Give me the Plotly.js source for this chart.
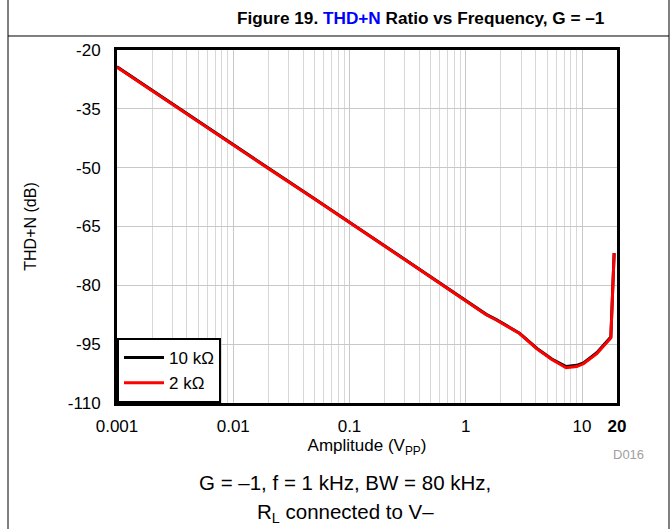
<!DOCTYPE html>
<html>
<head>
<meta charset="utf-8">
<script src="https://cdn.plot.ly/plotly-3.0.1.min.js"></script>
<style>html,body{margin:0;padding:0;background:#fff;}#chart{width:671px;height:529px;}</style>
</head>
<body>
<div id="chart"></div>
<script>
// Amplitude (Vpp) and THD+N (dB)
const amp10k = [0.001, 0.002, 0.005, 0.01, 0.02, 0.05, 0.1, 0.15, 0.2, 0.3, 0.5, 0.6, 0.9, 1.0, 1.5, 1.85, 2.1, 2.9, 4.1, 5.5, 7.3, 9.0, 10.3, 13.4, 17.7, 18.9];
const thd10k = [-24.3, -30.3, -38.2, -44.2, -50.1, -57.9, -64.0, -67.4, -69.9, -73.4, -77.9, -79.5, -82.9, -83.8, -87.4, -88.8, -89.7, -92.2, -96.1, -98.8, -100.7, -100.4, -99.8, -97.2, -93.2, -71.8];
const amp2k = [0.001, 0.002, 0.005, 0.01, 0.02, 0.05, 0.1, 0.15, 0.2, 0.3, 0.5, 0.6, 0.9, 1.0, 1.5, 1.85, 2.1, 2.9, 4.1, 5.5, 7.3, 9.0, 10.3, 13.4, 17.7, 18.9];
const thd2k  = [-24.4, -30.4, -38.3, -44.3, -50.2, -58.0, -64.1, -67.5, -70.0, -73.5, -78.0, -79.6, -83.0, -83.9, -87.5, -88.9, -89.8, -92.3, -96.2, -98.9, -101.0, -100.7, -100.0, -97.4, -93.4, -71.8];
const xTickVals = [0.001, 0.01, 0.1, 1, 10, 20];
const xTickText = ['0.001', '0.01', '0.1', '1', '10', '<b>20</b>'];
const yTickVals = [-20, -35, -50, -65, -80, -95, -110];
const yTickText = ['-20', '-35', '-50', '-65', '-80', '-95', '-110'];

const minorVals = [];
[0.001, 0.01, 0.1, 1, 10].forEach(d => { for (let k = 2; k <= 9; k++) { const v = d * k; if (v <= 20) minorVals.push(v); } });

const font = 'Arial, "Liberation Sans", sans-serif';

const traces = [
  {x: amp10k, y: thd10k, name: '10 k\u03A9', mode: 'lines', line: {color: '#000000', width: 3}},
  {x: amp2k, y: thd2k, name: '2 k\u03A9', mode: 'lines', line: {color: '#ff0000', width: 3}}
];

const layout = {
  width: 671, height: 529,
  margin: {l: 117, r: 54, t: 50, b: 126},
  paper_bgcolor: '#ffffff', plot_bgcolor: '#ffffff',
  font: {family: font, size: 17, color: '#000'},
  showlegend: true,
  legend: {x: 0, y: 0, xanchor: 'left', yanchor: 'bottom', bgcolor: '#ffffff', bordercolor: '#000000', borderwidth: 2, font: {size: 17, family: font}, tracegroupgap: 0, itemwidth: 40},
  xaxis: {
    type: 'log', range: [Math.log10(0.001), Math.log10(20)],
    tickmode: 'array', tickvals: xTickVals, ticktext: xTickText,
    ticks: 'outside', ticklen: 6, tickcolor: 'rgba(0,0,0,0)',
    showgrid: true, gridcolor: '#c8c8c8', gridwidth: 1,
    minor: {tickmode: 'array', tickvals: minorVals, showgrid: true, gridcolor: '#d8d8d8', gridwidth: 1, ticks: ''},
    showline: true, linecolor: '#000', linewidth: 3, mirror: true, zeroline: false,
    tickfont: {size: 17, family: font},
    title: {text: 'Amplitude (V<sub>PP</sub>)', font: {size: 17, family: font}, standoff: 2}
  },
  yaxis: {
    range: [-110, -20], tickmode: 'array', tickvals: yTickVals, ticktext: yTickText,
    ticks: 'outside', ticklen: 10, tickcolor: 'rgba(0,0,0,0)',
    showgrid: true, gridcolor: '#c8c8c8', gridwidth: 1,
    showline: true, linecolor: '#000', linewidth: 3, mirror: true, zeroline: false,
    tickfont: {size: 17, family: font},
    title: {text: 'THD+N (dB)', font: {size: 16, family: font}, standoff: 28}
  },
  shapes: [
    {type: 'line', xref: 'paper', yref: 'paper', x0: -0.218, x1: -0.218, y0: -0.36, y1: 1.145, line: {color: '#000', width: 1}},
    {type: 'line', xref: 'paper', yref: 'paper', x0: 1.104, x1: 1.104, y0: -0.36, y1: 1.145, line: {color: '#000', width: 1}},
    {type: 'line', xref: 'paper', yref: 'paper', x0: -0.218, x1: 1.104, y0: 1.0397, y1: 1.0397, line: {color: '#000', width: 1}}
  ],
  annotations: [
    {xref: 'paper', yref: 'paper', x: 0.608, y: 1.0907, xanchor: 'center', yanchor: 'middle', showarrow: false,
     text: '<b>Figure 19. <span style="color:#0000ff">THD+N</span> Ratio vs Frequency, G = \u20131</b>', font: {size: 17.2, family: font, color: '#000'}},
    {xref: 'paper', yref: 'paper', x: 1.022, y: -0.147, xanchor: 'center', yanchor: 'middle', showarrow: false,
     text: 'D016', font: {size: 13, family: font, color: '#a0a0a0'}},
    {xref: 'paper', yref: 'paper', x: 0.456, y: -0.2266, xanchor: 'center', yanchor: 'middle', showarrow: false,
     text: 'G = \u20131, f = 1 kHz, BW = 80 kHz,', font: {size: 20.5, family: font, color: '#000'}},
    {xref: 'paper', yref: 'paper', x: 0.456, y: -0.3116, xanchor: 'center', yanchor: 'middle', showarrow: false,
     text: 'R<sub>L</sub> connected to V\u2013', font: {size: 20.5, family: font, color: '#000'}}
  ]
};

Plotly.newPlot('chart', traces, layout, {staticPlot: true, displayModeBar: false});
</script>
</body>
</html>
